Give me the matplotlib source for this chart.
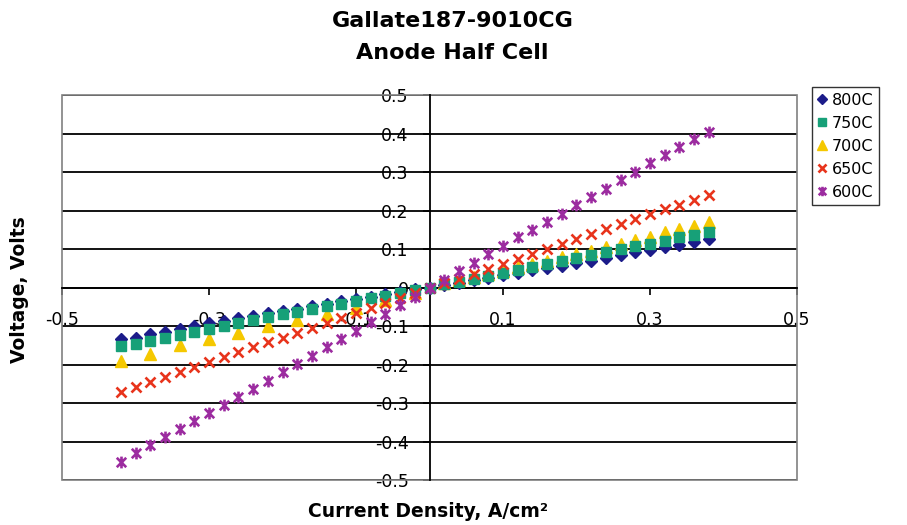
import matplotlib
matplotlib.use('Agg')
from matplotlib import pyplot as plt
from matplotlib.path import Path
from matplotlib.patches import Rectangle

# current density, A/cm^2
x_all = [-0.42, -0.40, -0.38, -0.36, -0.34, -0.32, -0.30, -0.28, -0.26, -0.24, -0.22,
         -0.20, -0.18, -0.16, -0.14, -0.12, -0.10, -0.08, -0.06, -0.04, -0.02, 0.0,
         0.02, 0.04, 0.06, 0.08, 0.10, 0.12, 0.14, 0.16, 0.18, 0.20,
         0.22, 0.24, 0.26, 0.28, 0.30, 0.32, 0.34, 0.36, 0.38]
# 700C was stepped coarser on the cathodic side
x_700 = [-0.42, -0.38, -0.34, -0.30, -0.26, -0.22, -0.18, -0.14, -0.10, -0.06, -0.02,
         0.02, 0.04, 0.06, 0.08, 0.10, 0.12, 0.14, 0.16, 0.18, 0.20,
         0.22, 0.24, 0.26, 0.28, 0.30, 0.32, 0.34, 0.36, 0.38]

# voltage, V
v_800 = [-0.135, -0.130, -0.122, -0.115, -0.108, -0.100, -0.093, -0.086, -0.079, -0.073, -0.067,
         -0.061, -0.055, -0.049, -0.043, -0.036, -0.030, -0.024, -0.017, -0.011, -0.005, 0.0,
         0.006, 0.013, 0.019, 0.026, 0.032, 0.039, 0.045, 0.051, 0.057, 0.063,
         0.070, 0.077, 0.084, 0.091, 0.098, 0.104, 0.111, 0.118, 0.125]
v_750 = [-0.153, -0.148, -0.140, -0.132, -0.124, -0.115, -0.107, -0.099, -0.091, -0.084, -0.077,
         -0.070, -0.063, -0.056, -0.049, -0.042, -0.035, -0.028, -0.021, -0.014, -0.007, 0.0,
         0.008, 0.015, 0.022, 0.030, 0.037, 0.045, 0.053, 0.060, 0.068, 0.076,
         0.084, 0.092, 0.099, 0.107, 0.114, 0.122, 0.130, 0.137, 0.145]
v_700 = [-0.192, -0.172, -0.150, -0.134, -0.117, -0.100, -0.084, -0.068, -0.052, -0.033, -0.013,
         0.011, 0.019, 0.027, 0.036, 0.044, 0.052, 0.061, 0.069, 0.078, 0.087,
         0.096, 0.104, 0.113, 0.123, 0.132, 0.143, 0.152, 0.160, 0.169]
v_650 = [-0.272, -0.259, -0.245, -0.232, -0.219, -0.206, -0.193, -0.180, -0.167, -0.155, -0.142,
         -0.130, -0.117, -0.104, -0.091, -0.078, -0.065, -0.052, -0.040, -0.028, -0.014, 0.0,
         0.013, 0.023, 0.035, 0.048, 0.061, 0.074, 0.086, 0.099, 0.112, 0.125,
         0.138, 0.151, 0.164, 0.177, 0.190, 0.203, 0.215, 0.228, 0.241]
v_600 = [-0.453, -0.431, -0.410, -0.389, -0.368, -0.347, -0.326, -0.306, -0.285, -0.263, -0.242,
         -0.220, -0.199, -0.177, -0.155, -0.134, -0.112, -0.090, -0.068, -0.046, -0.024, 0.0,
         0.020, 0.043, 0.064, 0.086, 0.108, 0.130, 0.150, 0.171, 0.192, 0.214,
         0.236, 0.257, 0.280, 0.301, 0.323, 0.344, 0.364, 0.385, 0.403]

x_ticks = [-0.5, -0.3, -0.1, 0.1, 0.3, 0.5]
y_ticks = [0.5, 0.4, 0.3, 0.2, 0.1, 0.0, -0.1, -0.2, -0.3, -0.4, -0.5]
y_tick_labels = ['0.5', '0.4', '0.3', '0.2', '0.1', '0', '-0.1', '-0.2', '-0.3', '-0.4', '-0.5']

# excel style star: an x with a vertical bar through it
star = Path([(-1, -1), (1, 1), (-1, 1), (1, -1), (0, -1.25), (0, 1.25)],
            [Path.MOVETO, Path.LINETO, Path.MOVETO, Path.LINETO, Path.MOVETO, Path.LINETO])

fig = plt.figure(figsize=(9.07, 5.25), dpi=100)
ax = fig.add_axes([0.0684, 0.0857, 0.8103, 0.7333])

ax.plot(x_all, v_800, ls='none', marker='D', ms=6.5, color='#1c1c8a', mec='#1c1c8a', label='800C', zorder=3)
ax.plot(x_700, v_700, ls='none', marker='^', ms=8.5, color='#f5c800', mec='#f5c800', label='700C', zorder=4)
ax.plot(x_all, v_750, ls='none', marker='s', ms=7.5, color='#17a078', mec='#17a078', label='750C', zorder=5)
ax.plot(x_all, v_650, ls='none', marker='x', ms=7.5, mew=1.9, color='#e8341c', label='650C', zorder=6)
ax.plot(x_all, v_600, ls='none', marker=star, ms=8.5, mew=1.9, color='#9c2ca0', label='600C', zorder=7)

ax.set_xlim(-0.5, 0.5)
ax.set_ylim(-0.5, 0.5)

# axes cross at the origin
ax.spines['left'].set_position(('data', 0))
ax.spines['bottom'].set_position(('data', 0))
ax.spines['top'].set_visible(False)
ax.spines['right'].set_visible(False)
for s in ['left', 'bottom']:
    ax.spines[s].set_linewidth(1.3)
    ax.spines[s].set_zorder(2)

ax.set_xticks(x_ticks)
ax.set_xticklabels(['-0.5', '-0.3', '-0.1', '0.1', '0.3', '0.5'])
ax.set_yticks(y_ticks)
ax.set_yticklabels(y_tick_labels)
ax.tick_params(axis='x', direction='out', length=5, width=1.2, pad=12, labelsize=12.5)
ax.tick_params(axis='y', direction='out', length=5, width=1.2, pad=10, labelsize=12.5)

ax.yaxis.grid(True, color='black', lw=1.3)
ax.set_axisbelow(True)

# plot area frame
ax.add_patch(Rectangle((0, 0), 1, 1, transform=ax.transAxes, fill=False,
                       edgecolor='#808080', lw=1.2, zorder=1, clip_on=False))

fig.text(0.499, 0.960, 'Gallate187-9010CG', ha='center', va='center', fontsize=16, fontweight='bold')
fig.text(0.499, 0.899, 'Anode Half Cell', ha='center', va='center', fontsize=16, fontweight='bold')
fig.text(0.472, 0.026, 'Current Density, A/cm²', ha='center', va='center', fontsize=13.5, fontweight='bold')
fig.text(0.022, 0.448, 'Voltage, Volts', ha='center', va='center', rotation=90, fontsize=13.5, fontweight='bold')

h, l = ax.get_legend_handles_labels()
order = [0, 2, 1, 3, 4]
leg = fig.legend([h[i] for i in order], [l[i] for i in order],
                 loc='upper left', bbox_to_anchor=(0.895, 0.834), borderaxespad=0, fontsize=11.5,
                 frameon=True, fancybox=False, edgecolor='black', borderpad=0.35,
                 handlelength=0.6, handletextpad=0.3, labelspacing=0.5, markerscale=0.8)
leg.get_frame().set_linewidth(1.0)

plt.savefig('out.png', dpi=100)
